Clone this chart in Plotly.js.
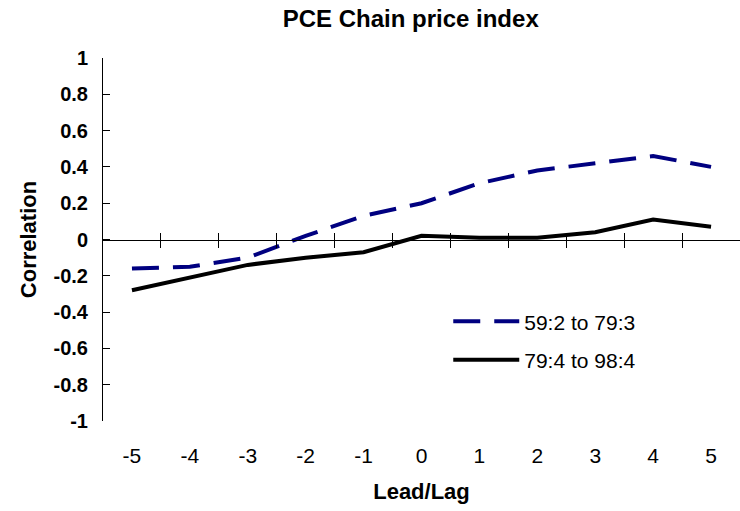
<!DOCTYPE html>
<html>
<head>
<meta charset="utf-8">
<script src="https://cdn.plot.ly/plotly-3.0.1.min.js"></script>
<style>html,body{margin:0;padding:0;background:#fff;}#chart{width:740px;height:511px;}</style>
</head>
<body>
<div id="chart"></div>
<script>
const leadLag = [-5, -4, -3, -2, -1, 0, 1, 2, 3, 4, 5];
const xTickText = ["-5", "-4", "-3", "-2", "-1", "0", "1", "2", "3", "4", "5"];
const series1Name = "59:2 to 79:3";
const series1 = [-0.16, -0.15, -0.10, 0.02, 0.13, 0.20, 0.31, 0.38, 0.42, 0.46, 0.40];
const series2Name = "79:4 to 98:4";
const series2 = [-0.28, -0.21, -0.14, -0.10, -0.07, 0.02, 0.01, 0.01, 0.04, 0.11, 0.07];
const yTickVals = [-1, -0.8, -0.6, -0.4, -0.2, 0, 0.2, 0.4, 0.6, 0.8, 1];
const yTickText = ["-1", "-0.8", "-0.6", "-0.4", "-0.2", "0", "0.2", "0.4", "0.6", "0.8", "1"];
const xBoundaryTicks = [-4.5, -3.5, -2.5, -1.5, -0.5, 0.5, 1.5, 2.5, 3.5, 4.5];

const font = "Arial, 'Liberation Sans', sans-serif";

const traces = [
  {x: [null], y: [null], xaxis: "x2", yaxis: "y", showlegend: false, hoverinfo: "skip", type: "scatter", mode: "lines"},
  {x: [null], y: [null], xaxis: "x", yaxis: "y", showlegend: false, hoverinfo: "skip", type: "scatter", mode: "lines"},
  {x: leadLag, y: series1, name: series1Name, legendgroup: "a", type: "scatter", mode: "lines",
   line: {color: "#000080", width: 4, dash: "27px,14px"}, xaxis: "x3", yaxis: "y"},
  {x: leadLag, y: series2, name: series2Name, legendgroup: "b", type: "scatter", mode: "lines",
   line: {color: "#000000", width: 4}, xaxis: "x3", yaxis: "y"}
];

const layout = {
  width: 740, height: 511,
  margin: {l: 103, r: 0, t: 58, b: 90},
  paper_bgcolor: "#fff", plot_bgcolor: "#fff",
  font: {family: font, color: "#000"},
  title: {text: "<b>PCE Chain price index</b>", font: {size: 24, family: font, color: "#000"},
          x: 0.555, xanchor: "center", y: 0.963, yanchor: "middle"},
  showlegend: true,
  legend: {x: 0.542, y: 0.33, xanchor: "left", yanchor: "top", bgcolor: "rgba(0,0,0,0)",
           font: {size: 21, family: font, color: "#000"}, traceorder: "grouped", tracegroupgap: 8, itemwidth: 66},
  xaxis: {range: [-5.5, 5.5], anchor: "free", position: 0.5, showline: true, linecolor: "#000", linewidth: 1,
          tickmode: "array", tickvals: xBoundaryTicks, ticks: "outside", ticklen: 7, tickcolor: "#000",
          showticklabels: false, showgrid: false, zeroline: false, fixedrange: true},
  xaxis2: {range: [-5.5, 5.5], overlaying: "x", anchor: "free", position: 0.5, showline: false,
           tickmode: "array", tickvals: xBoundaryTicks, ticks: "inside", ticklen: 7, tickcolor: "#000",
           showticklabels: false, showgrid: false, zeroline: false, fixedrange: true},
  xaxis3: {range: [-5.5, 5.5], overlaying: "x", anchor: "y", side: "bottom", showline: false,
           tickmode: "array", tickvals: leadLag, ticktext: xTickText, ticks: "",
           ticklabelstandoff: 20, tickfont: {size: 21, family: font, color: "#000"},
           showgrid: false, zeroline: false, fixedrange: true,
           title: {text: "<b>Lead/Lag</b>", font: {size: 22, family: font, color: "#000"}, standoff: 17}},
  yaxis: {range: [-1, 1], showline: true, linecolor: "#000", linewidth: 1,
          tickmode: "array", tickvals: yTickVals, ticktext: yTickText,
          ticks: "inside", ticklen: 7, tickcolor: "#000",
          tickfont: {size: 20, family: font, color: "#000", weight: "bold"}, ticklabelstandoff: 10,
          showgrid: false, zeroline: false, fixedrange: true,
          title: {text: "<b>Correlation</b>", font: {size: 22, family: font, color: "#000"}, standoff: 10}}
};

Plotly.newPlot("chart", traces, layout, {staticPlot: true, displayModeBar: false});
</script>
</body>
</html>
